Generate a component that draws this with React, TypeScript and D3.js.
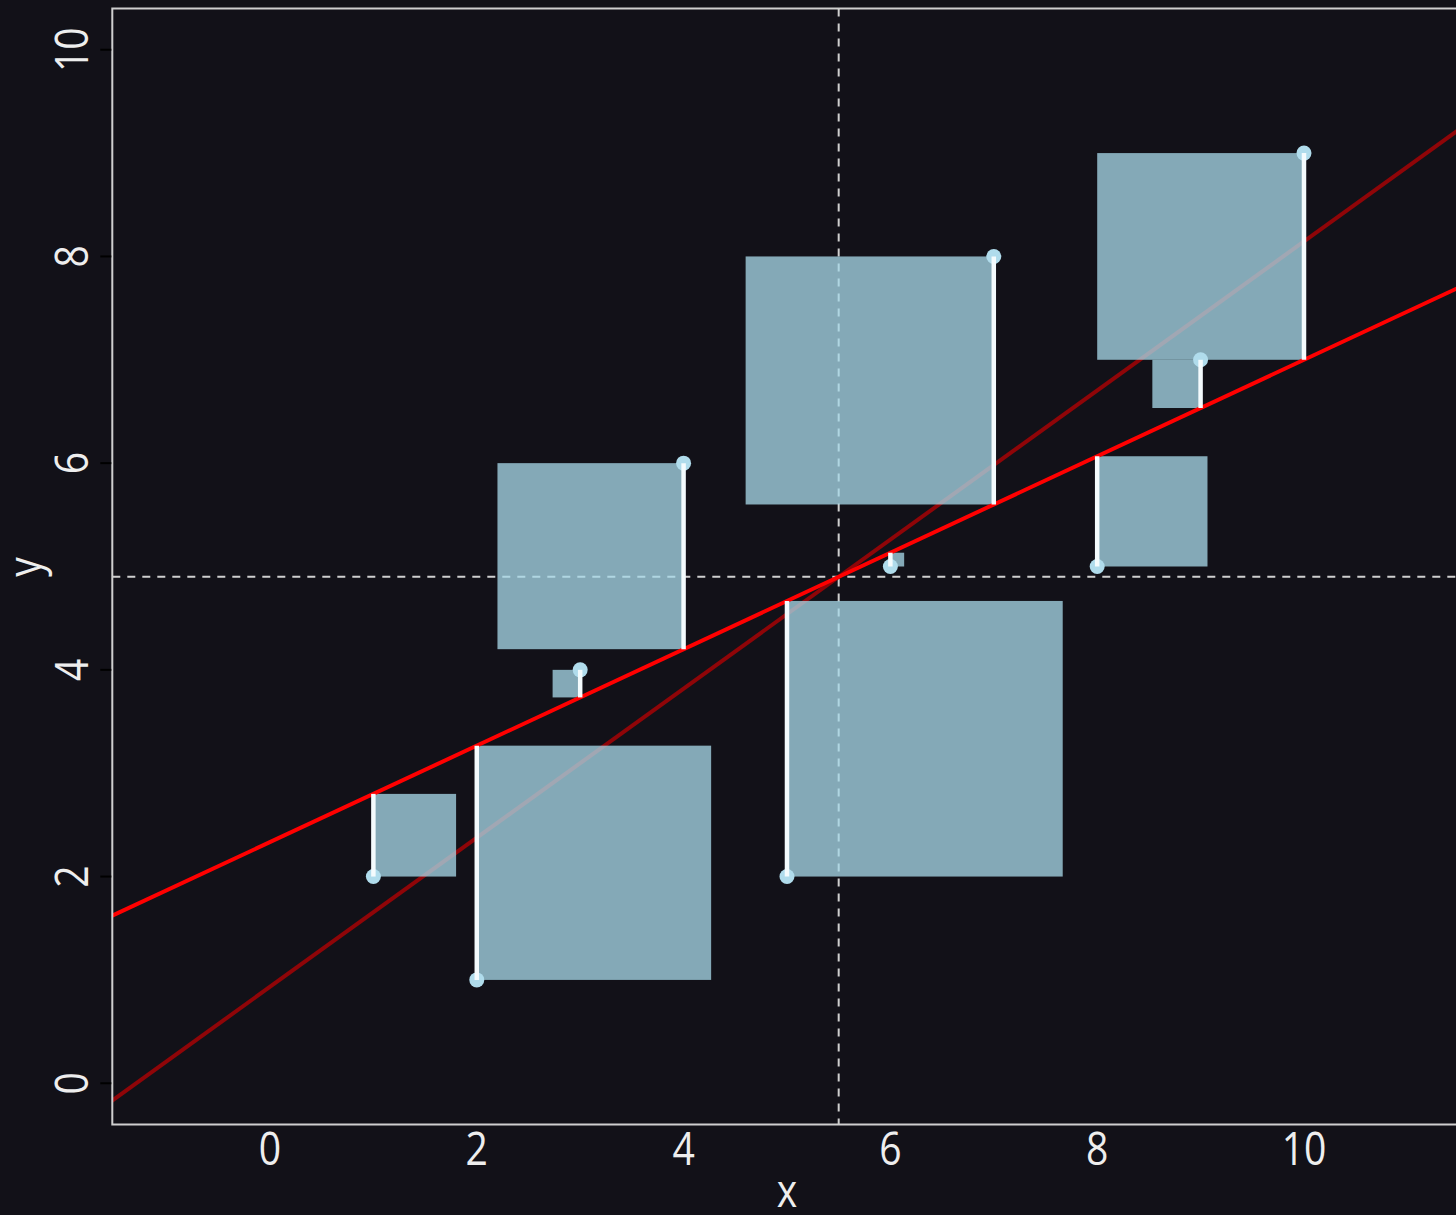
import React from "react";
import * as d3 from "d3";

// Data
const xValues = [1, 2, 3, 4, 5, 6, 7, 8, 9, 10];
const yValues = [2, 1, 4, 6, 2, 5, 8, 5, 7, 9];
const guessSlope = 0.4667; // slope of the bright red (trial) line through the means
const xTicks = [0, 2, 4, 6, 8, 10];
const yTicks = [0, 2, 4, 6, 8, 10];
const xDomain = [-1.525, 11.6];
const yDomain = [-0.4, 10.4];

const W = 1456;
const H = 1215;
const plotLeft = 112.3;
const plotTop = 8.4;
const plotBottom = 1124.6;
const pxPerUnitX = 103.4;
const plotRight = plotLeft + (xDomain[1] - xDomain[0]) * pxPerUnitX;

const COLORS = {
  bg: "#121118",
  frame: "#cfcfcf",
  text: "#eeeeee",
  square: "#a6d8e8",
  point: "#b0dcec",
  seg: "#f4fbfd",
  guess: "#ff0000",
  ols: "#8f0508",
  dash: "#cfcfcf",
};

export default function App() {
  const x = d3.scaleLinear().domain(xDomain).range([plotLeft, plotRight]);
  const y = d3.scaleLinear().domain(yDomain).range([plotBottom, plotTop]);

  const xMean = d3.mean(xValues) as number;
  const yMean = d3.mean(yValues) as number;
  let sxy = 0;
  let sxx = 0;
  xValues.forEach((xv, i) => {
    sxy += (xv - xMean) * (yValues[i] - yMean);
    sxx += (xv - xMean) * (xv - xMean);
  });
  const olsSlope = sxy / sxx;
  const olsLine = (v: number) => yMean + olsSlope * (v - xMean);
  const guessLine = (v: number) => yMean + guessSlope * (v - xMean);

  const xs = [xDomain[0] - 1, xDomain[1] + 1];
  const olsPath = d3.line<number>().x((d) => x(d)).y((d) => y(olsLine(d)))(xs) as string;
  const guessPath = d3.line<number>().x((d) => x(d)).y((d) => y(guessLine(d)))(xs) as string;

  const pts = xValues.map((xv, i) => {
    const yv = yValues[i];
    const fit = guessLine(xv);
    const r = yv - fit;
    const side = Math.abs(r);
    const x0 = r > 0 ? xv - side : xv;
    const x1 = r > 0 ? xv : xv + side;
    const y0 = Math.min(yv, fit);
    const y1 = Math.max(yv, fit);
    return { xv, yv, fit, x0, x1, y0, y1 };
  });

  const font = "'Open Sans', 'Noto Sans', sans-serif";
  const fs = 46;

  return (
    <svg
      width={W}
      height={H}
      style={{ position: "absolute", left: 0, top: 0, display: "block" }}
    >
      <defs>
        <clipPath id="plotClip">
          <rect x={plotLeft} y={plotTop} width={plotRight - plotLeft} height={plotBottom - plotTop} />
        </clipPath>
      </defs>
      <rect x={0} y={0} width={W} height={H} fill={COLORS.bg} />

      <g clipPath="url(#plotClip)">
        {/* mean lines */}
        <line
          x1={x(xMean)}
          x2={x(xMean)}
          y1={plotTop}
          y2={plotBottom}
          stroke={COLORS.dash}
          strokeWidth={2}
          strokeDasharray="8,7"
        />
        <line
          x1={plotLeft}
          x2={plotRight}
          y1={y(yMean)}
          y2={y(yMean)}
          stroke={COLORS.dash}
          strokeWidth={2}
          strokeDasharray="8,7"
        />
        {/* OLS line */}
        <path d={olsPath} stroke={COLORS.ols} strokeWidth={4} fill="none" />
        {/* squares */}
        {pts.map((p, i) => (
          <rect
            key={"sq" + i}
            x={x(p.x0)}
            y={y(p.y1)}
            width={x(p.x1) - x(p.x0)}
            height={y(p.y0) - y(p.y1)}
            fill={COLORS.square}
            fillOpacity={0.77}
          />
        ))}
        {/* trial line */}
        <path d={guessPath} stroke={COLORS.guess} strokeWidth={4} fill="none" />
        {/* points */}
        {pts.map((p, i) => (
          <circle key={"pt" + i} cx={x(p.xv)} cy={y(p.yv)} r={7.5} fill={COLORS.point} />
        ))}
        {/* residual segments */}
        {pts.map((p, i) => (
          <line
            key={"seg" + i}
            x1={x(p.xv)}
            x2={x(p.xv)}
            y1={y(p.yv)}
            y2={y(p.fit)}
            stroke={COLORS.seg}
            strokeWidth={4.5}
          />
        ))}
      </g>

      {/* frame */}
      <path
        d={`M${plotRight},${plotTop} L${plotLeft},${plotTop} L${plotLeft},${plotBottom} L${plotRight},${plotBottom}`}
        fill="none"
        stroke={COLORS.frame}
        strokeWidth={2}
      />

      {/* y ticks */}
      {yTicks.map((t) => (
        <g key={"yt" + t}>
          <line x1={plotLeft - 12} x2={plotLeft - 1} y1={y(t)} y2={y(t)} stroke="#000000" strokeWidth={2} />
          <text
            transform={`translate(88,${y(t)}) rotate(-90) scale(0.85,1)`}
            textAnchor="middle"
            fontFamily={font}
            fontSize={fs}
            fill={COLORS.text}
          >
            {t}
          </text>
        </g>
      ))}
      {/* x tick labels */}
      {xTicks.map((t) => (
        <text
          key={"xt" + t}
          transform={`translate(${x(t)},1165) scale(0.85,1)`}
          textAnchor="middle"
          fontFamily={font}
          fontSize={fs}
          fill={COLORS.text}
        >
          {t}
        </text>
      ))}

      {/* axis titles */}
      <text
        transform={`translate(787,1207) scale(0.85,1)`}
        textAnchor="middle"
        fontFamily={font}
        fontSize={fs}
        fill={COLORS.text}
      >
        x
      </text>
      <text
        transform={`translate(41,567) rotate(-90) scale(0.85,1)`}
        textAnchor="middle"
        fontFamily={font}
        fontSize={fs}
        fill={COLORS.text}
      >
        y
      </text>
    </svg>
  );
}
